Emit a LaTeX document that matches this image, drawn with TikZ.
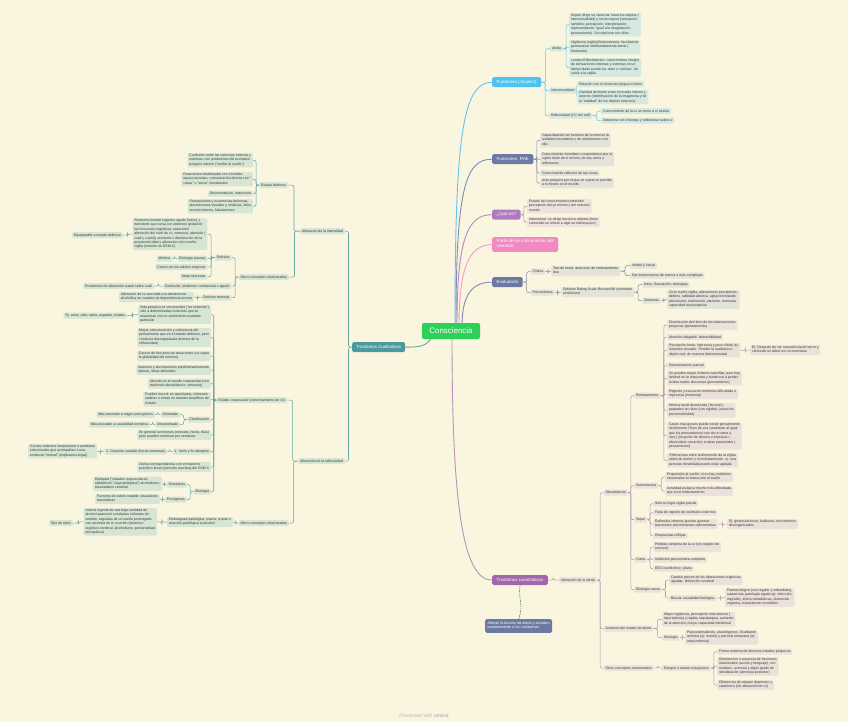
\documentclass[tikz,border=0pt]{standalone}
\usepackage{fontspec}
\setmainfont{Liberation Sans}
\usetikzlibrary{calc}
\definecolor{bgc}{RGB}{250,245,223}
\definecolor{txtc}{RGB}{55,55,55}
\definecolor{jmain}{RGB}{79,195,240}
\definecolor{smain}{RGB}{108,121,163}
\definecolor{qmain}{RGB}{176,122,190}
\definecolor{pinkm}{RGB}{240,138,192}
\definecolor{tmain}{RGB}{164,102,170}
\definecolor{cualm}{RGB}{76,154,156}
\definecolor{consm}{RGB}{46,209,88}
\definecolor{jfill}{RGB}{214,233,224}
\definecolor{gfill}{RGB}{227,227,218}
\definecolor{qfill}{RGB}{239,226,220}
\definecolor{pfill}{RGB}{236,224,218}
\definecolor{tfill}{RGB}{214,229,212}
\definecolor{jline}{RGB}{96,198,238}
\definecolor{sline}{RGB}{128,140,178}
\definecolor{qline}{RGB}{184,134,196}
\definecolor{pline}{RGB}{243,154,198}
\definecolor{tline}{RGB}{186,146,186}
\definecolor{cline}{RGB}{100,168,164}
\definecolor{dline}{RGB}{80,140,115}
\definecolor{footc}{RGB}{185,185,185}
\pgfdeclarelayer{bgl}
\pgfdeclarelayer{lines}
\pgfsetlayers{bgl,lines,main}
\newcommand\linkR[3]{\draw[#1] (#2.east) -- ($(#2.east)!.5!(#2.east-|#3.west)$) |- (#3.west);}
\newcommand\linkL[3]{\draw[#1] (#2.west) -- ($(#2.west)!.5!(#2.west-|#3.east)$) |- (#3.east);}
\tikzset{
  box/.style={font=\fontsize{3.5}{4.4}\selectfont, text=txtc, align=left, inner xsep=1.8pt, inner ysep=0.8pt, rounded corners=1.2pt, execute at begin node=\strut, execute at end node=\strut, anchor=north west},
  jb/.style={box, fill=jfill},
  gb/.style={box, fill=gfill},
  qb/.style={box, fill=qfill},
  pb/.style={box, fill=pfill},
  tbl/.style={box, fill=tfill, anchor=north east},
  mainnode/.style={font=\fontsize{4.4}{5}\selectfont, text=white, align=left, inner xsep=4.5pt, inner ysep=2.5pt, rounded corners=1.5pt, anchor=north west, execute at begin node=\strut, execute at end node=\strut},
  altb/.style={font=\fontsize{3.7}{4.4}\selectfont, text=white, fill=smain, align=left, inner xsep=2.5pt, inner ysep=2.6pt, rounded corners=1.5pt, anchor=north west, execute at begin node=\strut, execute at end node=\strut},
  cons/.style={font=\fontsize{7.9}{9}\selectfont, text=white, fill=consm, minimum width=58pt, minimum height=16pt, rounded corners=2pt, inner sep=0pt},
  ln/.style={line width=0.55pt, rounded corners=2pt},
  ml/.style={line width=0.9pt},
}
\begin{document}
\begin{tikzpicture}[x=1pt,y=-1pt]
\useasboundingbox (0,0) rectangle (848,722);
\begin{pgfonlayer}{bgl}
\fill[bgc] (0,0) rectangle (848,722);
\end{pgfonlayer}

% ---------- centre ----------
\node[cons] (C) at (451,331) {Consciencia};

% ---------- Jaspers ----------
\node[mainnode, fill=jmain] (J) at (492,77) {Funciones (Jaspers)};
\node[jb] (Ja) at (550,45.5) {Alerta};
\node[jb] (Ja1) at (569,13) {Sujeto dirige su vivenciar hacia los objetos (\\intencionalidad) y los incorpora (sensación:\\sentidos; percepción; interpretación;\\representación: igual a la imaginación;\\pensamiento). Se relaciona con ellos.};
\node[jb] (Ja2) at (569,40) {Vigilancia (vigilia)/Somnolencia: facultad de\\permanecer deliberadamente alerta (\\fluctuante)};
\node[jb] (Ja3) at (569,58) {Lucidez/Obnubilación: conocimiento íntegro\\de sensaciones internas y externas en un\\tiempo dado puede ser claro o confuso. Va\\unida a la vigilia.};
\node[jb] (Ji) at (549,87.5) {Intencionalidad};
\node[jb] (Ji1) at (577,81) {Relación con el vivenciar psíquico íntimo};
\node[jb] (Ji2) at (577,90) {Claridad del límite entre el mundo interno y\\externo (identificación de la imaginería y de\\la "realidad" de los objetos externos)};
\node[jb] (Jr) at (549,112.5) {Reflexividad (CC del self)};
\node[jb] (Jr1) at (601,108) {Conocimiento de la cc en torno a sí misma};
\node[jb] (Jr2) at (601,117.5) {Detenerse en el tiempo y reflexionar sobre sí};

% ---------- RAE ----------
\node[mainnode, fill=smain] (R) at (492,154) {Funciones: RAE};
\node[gb] (R1) at (540,133) {Capacidad del ser humano de reconocer la\\realidad circundante y de relacionarse con\\ella};
\node[gb] (R2) at (540,152) {Conocimiento inmediato o espontáneo que el\\sujeto tiene de sí mismo, de sus actos y\\reflexiones};
\node[gb] (R3) at (540,170) {Conocimiento reflexivo de las cosas};
\node[gb] (R4) at (540,178) {Acto psíquico por el que un sujeto se percibe\\a sí mismo en el mundo};

% ---------- Que es ----------
\node[mainnode, fill=qmain] (Q) at (492,209.5) {¿Qué es?};
\node[qb] (Q1) at (527,199) {Estado del conocimiento/contenido/\\percepción del yo mismo y del entorno/\\mundo};
\node[qb] (Q2) at (527,217) {Intencional: se dirige hacia los objetos (tiene\\contenido-se refiere a algo-se interesa por)};

% ---------- Pink ----------
\node[mainnode, fill=pinkm] (P) at (492,237) {Parte de los instrumentos del\\vivenciar};

% ---------- Evaluacion ----------
\node[mainnode, fill=smain] (E) at (492,277) {Evaluación};
\node[gb] (Ec) at (530.5,268.5) {Clínica};
\node[gb] (Ec1) at (551,266) {Test de head: detección de embotamiento\\leve};
\node[gb] (Ec1a) at (630,262.5) {Verbal y Visual};
\node[gb] (Ec1b) at (630,272.5) {Dar instrucciones de menos a más complejas};
\node[gb] (Ep) at (530.5,289.5) {Psicométrica};
\node[gb] (Ep1) at (561,287) {Delirium Rating Scale-Revised 98 (orientado\\al delirium)};
\node[gb] (Ep1a) at (642,281.5) {Inicio, fluctuación, etiologías};
\node[gb] (Ep1b) at (642,297.5) {Síntomas};
\node[gb] (Ep1b1) at (667,290) {Ciclo sueño-vigilia, alteraciones perceptivas,\\delirios, labilidad afectiva, agitación/retardo\\psicomotor, orientación, atención, memoria,\\capacidad visuoespacial};

% ---------- Cuantitativos ----------
\node[mainnode, fill=tmain] (T) at (492,575) {Trastornos cuantitativos};
\node[pb] (Ta) at (559,577) {Alteración de la alerta};
\node[pb] (Tob) at (603.5,489.5) {Obnubilación};
\node[pb] (Temb) at (634,392.5) {Embotamiento};
\node[pb] (e1) at (667,320) {Disminución del ritmo de las elaboraciones\\psíquicas (pensamiento)};
\node[pb] (e2) at (667,334) {Atención fatigable, distractibilidad};
\node[pb] (e3) at (667,343) {Percepción lenta, imprecisa y poco nítida (ej:\\ilusiones visuales. Percibir la realidad-un\\objeto real- de manera distorsionada)};
\node[pb] (e3a) at (750,345) {Ej: Después de ver una película de terror y\\confundir un árbol con un monstruo};
\node[pb] (e4) at (667,362.5) {Desorientación parcial};
\node[pb] (e5) at (667,371) {Se pueden seguir órdenes sencillas, pero hay\\lentitud en la respuesta y tendencia a perder\\la idea matriz discursiva (pensamiento)};
\node[pb] (e6) at (667,389) {Registro y evocación mnémica dificultada e\\imprecisa (memoria)};
\node[pb] (e7) at (667,403) {Mímica facial disminuida ("boxina"),\\parpadeo en raleo (con rigidez) (conación\\psicomotricidad)};
\node[pb] (e8) at (667,422) {Casos más graves puede existir pensamiento\\incoherente (Tono de voz cambiante al igual\\que los pensamientos-van de un tema a\\otro-) (irrupción de afectos e impulsos (\\afectividad, conación) e ideas paranoides (\\pensamiento)};
\node[pb] (e9) at (667,453) {*Diferencias entre la dimensión de la vigilia\\antes de dormir y el embotamiento. ej: una\\persona obnubilada puede estar agitada};
\node[pb] (Tsom) at (634,482.5) {Somnolencia};
\node[pb] (s1) at (665,472) {Propensión al sueño: si no hay estímulos\\sensoriales se transcurre al sueño};
\node[pb] (s2) at (665,486) {Actividad psíquica mucho más dificultada\\que en el embotamiento};
\node[pb] (Tsop) at (634,516.5) {Sopor};
\node[pb] (p1) at (653,500.5) {Solo se logra vigilia parcial};
\node[pb] (p2) at (653,509.5) {Falta de registro de estímulos externos};
\node[pb] (p3) at (653,519) {Estímulos internos pueden generar\\reacciones psicomotoras rudimentarias};
\node[pb] (p3a) at (727,519) {Ej: gesticulaciones, balbuceo, movimientos\\desorganizados};
\node[pb] (p4) at (653,532.5) {Respuestas reflejas};
\node[pb] (Tcoma) at (634,556.5) {Coma};
\node[pb] (c1) at (653,542) {Pérdida completa de la cc (sin registro de\\eventos)};
\node[pb] (c2) at (653,556.5) {Inhibición psicomotora completa};
\node[pb] (c3) at (653,565.5) {EEG isoeléctrico: plano};
\node[pb] (Tet) at (634,586.5) {Etiología causa};
\node[pb] (t1) at (669,575) {Cambio precoz de las alteraciones orgánicas\\agudas: disfunción cerebral};
\node[pb] (t2) at (669,595) {Buscar causalidad biológica};
\node[pb] (t2a) at (725,588) {Farmacológica (uso regular y sobredosis),\\sustancias, patología aguda (ej: infección,\\migraña), tóxico-metabólicas, disfunción\\orgánica, traumatismo encefálico};
\node[pb] (Tau) at (603.5,625.5) {Aumento del estado de alerta};
\node[pb] (a1) at (662,612) {Mayor vigilancia, percepción más intensa (\\hiperestesia) y rápida, taquipsiquia, aumento\\de la atención, mayor capacidad intelectual};
\node[pb] (a2) at (662,634.5) {Etiología};
\node[pb] (a2a) at (685,630) {Psicoestimulantes, alucinógenos. Exaltación\\anímica (ej: manía) y psicosis temprana (ej:\\esquizofrenia)};
\node[pb] (Toc) at (603.5,665) {Otros conceptos relacionados};
\node[pb] (o1) at (662,665) {Estupor o estado estuporoso};
\node[pb] (o1a) at (717,648.5) {Forma extrema de diversos estados psíquicos};
\node[pb] (o1b) at (717,657) {Disminución o ausencia de funciones\\relacionales (acción y lenguaje), con\\mutismo, acinesia y algún grado de\\obnubilación (amnesia posterior)};
\node[pb] (o1c) at (717,680) {Diferenciar de estupor depresivo y\\catatónico (sin alteración de cc)};

\node[altb] (Alt) at (485,619) {Alteran la función de alerta y suceden\\paralelamente a los cualitativos};

% ---------- Cualitativos ----------
\node[mainnode, fill=cualm, inner xsep=4pt] (TC) at (352,342) {Trastornos Cualitativos};
\node[tbl] (AI) at (345,228) {Alteración de la intensidad};
\node[tbl] (AR) at (345,458) {Alteración de la reflexividad};
\node[tbl] (ed) at (288,182) {Estado delirioso};
\node[tbl] (ed1) at (253,153) {Confusión entre las vivencias internas y\\externas, con predominio del acontecer\\psíquico interno ("similar al sueño")};
\node[tbl] (ed2) at (253,172) {Reacciones inhabituales con el medio,\\equivocaciones, comunicación directa con "\\cosas" o "seres" inexistentes};
\node[tbl] (ed3) at (253,190.5) {Desorientación, inatención};
\node[tbl] (ed4) at (253,199) {Percepciones y ocurrencias delirosas,\\alucinaciones visuales y cinéticas, falso\\reconocimiento, fabulaciones};
\node[tbl] (oc1) at (289,274) {Otros conceptos relacionados};
\node[tbl] (del) at (231.5,254.5) {Delirium};
\node[tbl] (del1) at (207.5,218) {Síndrome mental orgánico agudo (inicio) y\\transitorio que cursa con deterioro global de\\las funciones cognitivas, reducción/\\alteración del nivel de cc, memoria, atención (\\cuali y cuanti), aumento o disminución de la\\psicomotricidad y alteración ciclo sueño-\\vigilia (incluido en DSM-5)};
\node[tbl] (del1a) at (123,232) {Equiparable a estado delirioso};
\node[tbl] (del2) at (207.5,255.5) {Etiología (causa)};
\node[tbl] (del2a) at (172,255.5) {Médica};
\node[tbl] (del3) at (207.5,264) {Común en los adultos mayores};
\node[tbl] (del4) at (207.5,273.5) {Mata neuronas};
\node[tbl] (conf) at (231.5,283) {Confusión, síndrome confusional o agudo};
\node[tbl] (conf1) at (154,283) {Predominio de alteración cuanti sobre cuali};
\node[tbl] (dt) at (231.5,294.5) {Delirium tremens};
\node[tbl] (dt1) at (194,292) {Alteración de cc asociada a la abstinencia\\alcohólica en cuadros de dependencia severa};

\node[tbl] (ec) at (287,397) {Estado crepuscular (estrechamiento de cc)};
\node[tbl] (ec1) at (211,305) {Vida psíquica se circunscribe ("se estrecha")\\solo a determinadas vivencias que se\\relacionan con un sentimiento exaltado\\particular};
\node[tbl] (ec1a) at (127,312.5) {Ej: amor, odio, rabia, angustia, éxtasis};
\node[tbl] (ec2) at (211,328) {Mayor estructuración y coherencia del\\pensamiento que en el estado delirioso, pero\\conducta desorganizada (merma de la\\reflexividad)};
\node[tbl] (ec3) at (211,351) {Carece de tino ante las situaciones (no capta\\la globalidad del entorno)};
\node[tbl] (ec4) at (211,365) {Ilusiones y alucinaciones predominantemente\\ópticas, ideas deliroides};
\node[tbl] (ec5) at (211,378.5) {Absorto en el mundo crepuscular (con\\trasfondo obnubilatorio: amnesia)};
\node[tbl] (ec6) at (211,392) {Pueden incurrir en asesinatos, crímenes\\sádicos o entrar en estados beatíficos de\\éxtasis};
\node[tbl] (ec7) at (211,416.5) {Clasificación};
\node[tbl] (or) at (180,411.5) {Orientado};
\node[tbl] (or1) at (155,411.5) {Más asociado a origen psicogénico};
\node[tbl] (des) at (180,421.5) {Desorientado};
\node[tbl] (des1) at (150,421.5) {Más asociado a causalidad somática};
\node[tbl] (ec8) at (211,430) {En general son breves (minutos, horas, días)\\pero pueden continuar por semanas};
\node[tbl] (ec9) at (211,448.5) {1. Inicio y fin abruptos};
\node[tbl] (ec9a) at (167,448.5) {2. Duración variable (horas-semanas)};
\node[tbl] (ec9b) at (97,444) {3.Actos violentos inesperados o arrebatos\\emocionales que acompañan a una\\conducta "normal" (implicancia legal)};
\node[tbl] (ec10) at (211,462) {Cierta correspondencia con el trastorno\\psicótico breve (psicosis reactiva) del DSM-5};
\node[tbl] (ec11) at (211,488.5) {Etiología};
\node[tbl] (som) at (187,481.5) {Somáticas};
\node[tbl] (som1) at (162,476.5) {Epilepsia ("estados crepusculares\\epilépticos", fuga epiléptica") alcoholismo,\\traumatismo cerebral};
\node[tbl] (psi) at (187,496.5) {Psicógenas};
\node[tbl] (psi1) at (160,494) {Factores de estrés notable, situaciones\\traumáticas};
\node[tbl] (oc2) at (289,520) {Otros conceptos relacionados};
\node[tbl] (emb) at (233,517) {Embriaguez patológica, manía: a potu o\\reacción patológica al alcohol};
\node[tbl] (emb1) at (157,508) {Ante la ingesta de una baja cantidad de\\alcohol aparecen conductas violentas sin\\sentido, seguidas de un sueño prolongado\\con amnesia de lo ocurrido (deterioro\\orgánico cerebral, alcoholismo, personalidad\\psicopática)};
\node[tbl] (emb1a) at (73,520) {Tipo de ebrio};

\node[font=\fontsize{5}{6}\selectfont, text=footc] (ft) at (424,716) {Presented with \textbf{xmind}};

% ---------- connectors ----------
\begin{pgfonlayer}{lines}
\draw[ml, jline] (455,326) .. controls (455,140) and (462,82) .. (J.west);
\draw[ml, sline] (456,326) .. controls (456,190) and (465,159) .. (R.west);
\draw[ml, qline] (457,326) .. controls (457,240) and (467,214.5) .. (Q.west);
\draw[ml, pline] (459,326) .. controls (459,265) and (470,245) .. (P.west);
\draw[ml, sline] (462,326) .. controls (462,295) and (472,282) .. (E.west);
\draw[ml, tline] (452,336) .. controls (452,500) and (462,580) .. (T.west);
\draw[ml, cline] (432,336) .. controls (428,347) and (418,347) .. (TC.east);
\draw[line width=0.7pt, dline, dash pattern=on 1.5pt off 1pt] (T.south) .. controls (518,600) and (524,604) .. (Alt.north);

\foreach \c in {Ja,Ji,Jr} {\linkR{ln,jline}{J}{\c}}
\foreach \c in {Ja1,Ja2,Ja3} {\linkR{ln,jline}{Ja}{\c}}
\foreach \c in {Ji1,Ji2} {\linkR{ln,jline}{Ji}{\c}}
\foreach \c in {Jr1,Jr2} {\linkR{ln,jline}{Jr}{\c}}

\foreach \c in {R1,R2,R3,R4} {\linkR{ln,sline}{R}{\c}}
\foreach \c in {Q1,Q2} {\linkR{ln,qline}{Q}{\c}}

\foreach \c in {Ec,Ep} {\linkR{ln,sline}{E}{\c}}
\linkR{ln,sline}{Ec}{Ec1}
\foreach \c in {Ec1a,Ec1b} {\linkR{ln,sline}{Ec1}{\c}}
\linkR{ln,sline}{Ep}{Ep1}
\foreach \c in {Ep1a,Ep1b} {\linkR{ln,sline}{Ep1}{\c}}
\linkR{ln,sline}{Ep1b}{Ep1b1}

\linkR{ln,tline}{T}{Ta}
\foreach \c in {Tob,Tau,Toc} {\linkR{ln,tline}{Ta}{\c}}
\foreach \c in {Temb,Tsom,Tsop,Tcoma,Tet} {\linkR{ln,tline}{Tob}{\c}}
\foreach \c in {e1,e2,e3,e4,e5,e6,e7,e8,e9} {\linkR{ln,tline}{Temb}{\c}}
\linkR{ln,tline}{e3}{e3a}
\foreach \c in {s1,s2} {\linkR{ln,tline}{Tsom}{\c}}
\foreach \c in {p1,p2,p3,p4} {\linkR{ln,tline}{Tsop}{\c}}
\linkR{ln,tline}{p3}{p3a}
\foreach \c in {c1,c2,c3} {\linkR{ln,tline}{Tcoma}{\c}}
\foreach \c in {t1,t2} {\linkR{ln,tline}{Tet}{\c}}
\linkR{ln,tline}{t2}{t2a}
\foreach \c in {a1,a2} {\linkR{ln,tline}{Tau}{\c}}
\linkR{ln,tline}{a2}{a2a}
\linkR{ln,tline}{Toc}{o1}
\foreach \c in {o1a,o1b,o1c} {\linkR{ln,tline}{o1}{\c}}

\foreach \c in {AI,AR} {\linkL{ln,cline}{TC}{\c}}
\foreach \c in {ed,oc1} {\linkL{ln,cline}{AI}{\c}}
\foreach \c in {ed1,ed2,ed3,ed4} {\linkL{ln,cline}{ed}{\c}}
\foreach \c in {del,conf,dt} {\linkL{ln,cline}{oc1}{\c}}
\foreach \c in {del1,del2,del3,del4} {\linkL{ln,cline}{del}{\c}}
\linkL{ln,cline}{del1}{del1a}
\linkL{ln,cline}{del2}{del2a}
\linkL{ln,cline}{conf}{conf1}
\linkL{ln,cline}{dt}{dt1}
\foreach \c in {ec,oc2} {\linkL{ln,cline}{AR}{\c}}
\foreach \c in {ec1,ec2,ec3,ec4,ec5,ec6,ec7,ec8,ec9,ec10,ec11} {\linkL{ln,cline}{ec}{\c}}
\linkL{ln,cline}{ec1}{ec1a}
\foreach \c in {or,des} {\linkL{ln,cline}{ec7}{\c}}
\linkL{ln,cline}{or}{or1}
\linkL{ln,cline}{des}{des1}
\linkL{ln,cline}{ec9}{ec9a}
\linkL{ln,cline}{ec9a}{ec9b}
\foreach \c in {som,psi} {\linkL{ln,cline}{ec11}{\c}}
\linkL{ln,cline}{som}{som1}
\linkL{ln,cline}{psi}{psi1}
\linkL{ln,cline}{oc2}{emb}
\linkL{ln,cline}{emb}{emb1}
\linkL{ln,cline}{emb1}{emb1a}
\end{pgfonlayer}
\end{tikzpicture}
\end{document}
